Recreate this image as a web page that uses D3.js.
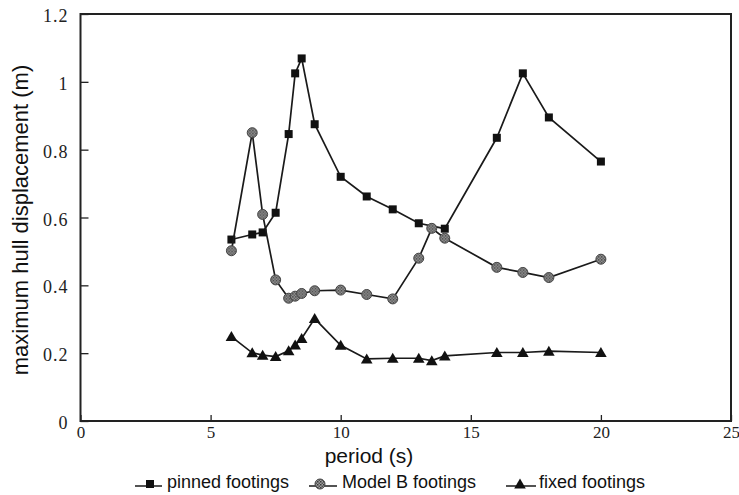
<!DOCTYPE html>
<html>
<head>
<meta charset="utf-8">
<script src="https://cdn.jsdelivr.net/npm/d3@7"></script>
<style>
  html, body { margin: 0; padding: 0; background: #fff; }
  svg { display: block; }
</style>
</head>
<body>
<svg id="chart" width="739" height="495"></svg>
<script>
// Wave period (s) at which each footing model was evaluated
const periodsPinned = [5.8, 6.6, 7, 7.5, 8, 8.25, 8.5, 9, 10, 11, 12, 13, 14, 16, 17, 18, 20];
const periodsOther  = [5.8, 6.6, 7, 7.5, 8, 8.25, 8.5, 9, 10, 11, 12, 13, 13.5, 14, 16, 17, 18, 20];

// Maximum hull displacement (m)
const pinnedFootings = [0.535, 0.55, 0.556, 0.614, 0.846, 1.025, 1.069, 0.875, 0.72, 0.662, 0.624, 0.583, 0.567, 0.835, 1.025, 0.895, 0.765];
const modelBFootings = [0.502, 0.85, 0.609, 0.416, 0.362, 0.368, 0.376, 0.384, 0.386, 0.373, 0.36, 0.48, 0.568, 0.539, 0.453, 0.438, 0.423, 0.477];
const fixedFootings  = [0.249, 0.201, 0.194, 0.19, 0.207, 0.224, 0.243, 0.302, 0.223, 0.183, 0.185, 0.185, 0.178, 0.192, 0.202, 0.202, 0.206, 0.202];

const xTicks = [0, 5, 10, 15, 20, 25];
const yTicks = [0, 0.2, 0.4, 0.6, 0.8, 1, 1.2];
const seriesNames = ["pinned footings", "Model B footings", "fixed footings"];

const svg = d3.select("#chart");
const x = d3.scaleLinear().domain([0, 25]).range([80.5, 731]);
const y = d3.scaleLinear().domain([0, 1.2]).range([421, 14]);

// Grey stippled fill for the Model B markers
const defs = svg.append("defs");
const pat = defs.append("pattern")
  .attr("id", "stipple").attr("patternUnits", "userSpaceOnUse")
  .attr("width", 3).attr("height", 3);
pat.append("rect").attr("width", 3).attr("height", 3).attr("fill", "#a0a0a0");
pat.append("rect").attr("width", 1.5).attr("height", 1.5).attr("fill", "#3a3a3a");
pat.append("rect").attr("x", 1.5).attr("y", 1.5).attr("width", 1.5).attr("height", 1.5).attr("fill", "#555");

// Axes (ticks point into the plot)
const yAxis = d3.axisLeft(y).tickValues(yTicks).tickSize(-8).tickPadding(12)
  .tickFormat(d => d3.format("~g")(d));
const gy = svg.append("g").attr("transform", `translate(${x(0)},0)`).call(yAxis);
gy.select(".domain").remove();
gy.selectAll(".tick line").attr("stroke", "#222").attr("stroke-width", 1.3);
gy.selectAll(".tick text")
  .attr("font-family", "'Liberation Serif', serif").attr("font-size", 18)
  .attr("letter-spacing", 1).attr("fill", "#222").attr("dy", "0.42em");

const xAxis = d3.axisBottom(x).tickValues(xTicks).tickSize(-6).tickPadding(5)
  .tickFormat(d3.format("d"));
const gx = svg.append("g").attr("transform", `translate(0,${y(0)})`).call(xAxis);
gx.select(".domain").remove();
gx.selectAll(".tick line").attr("stroke", "#222").attr("stroke-width", 1.3);
gx.selectAll(".tick text")
  .attr("font-family", "'Liberation Serif', serif").attr("font-size", 17).attr("fill", "#222");

// Plot frame
svg.append("rect")
  .attr("x", x(0)).attr("y", y(1.2))
  .attr("width", x(25) - x(0)).attr("height", y(0) - y(1.2))
  .attr("fill", "none").attr("stroke", "#222").attr("stroke-width", 2);

// Axis titles
svg.append("text")
  .attr("transform", `translate(28,220) rotate(-90)`)
  .attr("text-anchor", "middle")
  .attr("font-family", "'Liberation Sans', Arial, sans-serif").attr("font-size", 22)
  .attr("fill", "#111")
  .text("maximum hull displacement (m)");

svg.append("text")
  .attr("x", 369).attr("y", 463)
  .attr("text-anchor", "middle")
  .attr("font-family", "'Liberation Sans', Arial, sans-serif").attr("font-size", 21)
  .attr("fill", "#111")
  .text("period (s)");

// Marker drawing helpers
const markers = {
  square: (g) => g.append("rect").attr("x", -4).attr("y", -4).attr("width", 8).attr("height", 8)
    .attr("fill", "#111"),
  circle: (g) => g.append("circle").attr("r", 5)
    .attr("fill", "url(#stipple)").attr("stroke", "#444").attr("stroke-width", 1),
  triangle: (g) => g.append("path").attr("d", "M0,-5.5L5.8,4.5L-5.8,4.5Z").attr("fill", "#111")
};

const series = [
  { name: seriesNames[0], xs: periodsPinned, ys: pinnedFootings, marker: "square" },
  { name: seriesNames[1], xs: periodsOther,  ys: modelBFootings, marker: "circle" },
  { name: seriesNames[2], xs: periodsOther,  ys: fixedFootings,  marker: "triangle" }
];

const line = d3.line().x(d => x(d[0])).y(d => y(d[1]));

series.forEach(s => {
  const pts = s.xs.map((v, i) => [v, s.ys[i]]);
  svg.append("path").datum(pts).attr("d", line)
    .attr("fill", "none").attr("stroke", "#1a1a1a").attr("stroke-width", 1.7);
  const g = svg.append("g");
  pts.forEach(p => {
    const m = g.append("g").attr("transform", `translate(${x(p[0])},${y(p[1])})`);
    markers[s.marker](m);
  });
});

// Legend below the axis
const legendItems = [
  { name: seriesNames[0], marker: "square",   x0: 135, mx: 150, x1: 162, tx: 167 },
  { name: seriesNames[1], marker: "circle",   x0: 309, mx: 320, x1: 337, tx: 342 },
  { name: seriesNames[2], marker: "triangle", x0: 506, mx: 520, x1: 536, tx: 539 }
];
const legendBase = 488;
legendItems.forEach(it => {
  svg.append("line").attr("x1", it.x0).attr("x2", it.x1)
    .attr("y1", legendBase - 2).attr("y2", legendBase - 2)
    .attr("stroke", "#1a1a1a").attr("stroke-width", 1.5);
  const m = svg.append("g").attr("transform", `translate(${it.mx},${legendBase - 4})`);
  markers[it.marker](m);
  svg.append("text").attr("x", it.tx).attr("y", legendBase)
    .attr("font-family", "'Liberation Sans', Arial, sans-serif").attr("font-size", 18)
    .attr("fill", "#111").text(it.name);
});
</script>
</body>
</html>
